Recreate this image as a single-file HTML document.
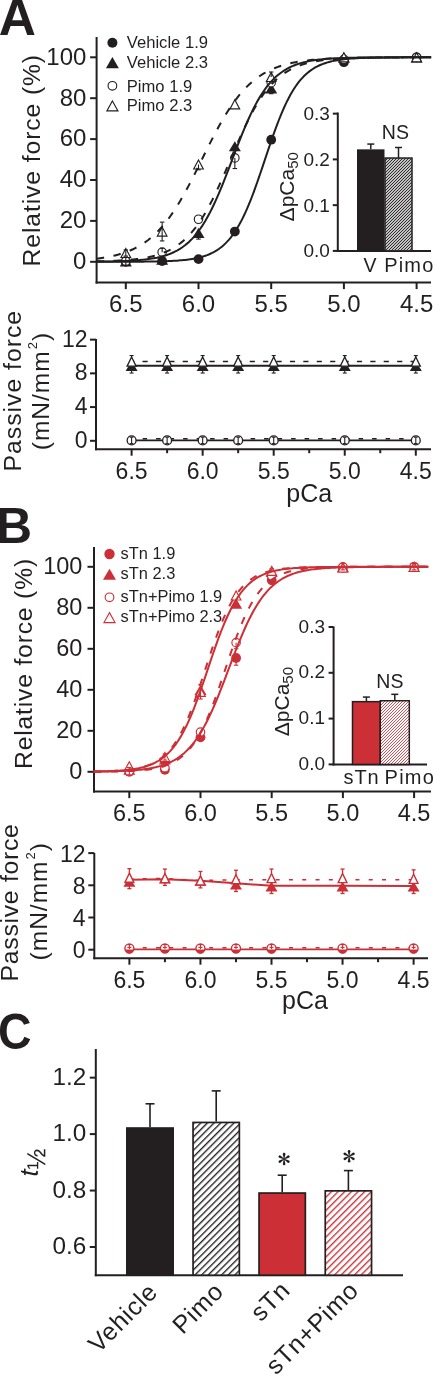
<!DOCTYPE html>
<html><head><meta charset="utf-8"><style>
html,body{margin:0;padding:0;background:#fff;}
svg{display:block;font-family:"Liberation Sans", sans-serif;will-change:transform;}
</style></head><body>
<svg width="433" height="1375" viewBox="0 0 433 1375">
<defs>
<pattern id="hatchK" patternUnits="userSpaceOnUse" width="4.7" height="4.7" patternTransform="rotate(45)">
<rect width="4.7" height="4.7" fill="#fff"/><rect x="0" y="0" width="1.35" height="4.7" fill="#231f20"/></pattern>
<pattern id="hatchR" patternUnits="userSpaceOnUse" width="4.7" height="4.7" patternTransform="rotate(45)">
<rect width="4.7" height="4.7" fill="#fff"/><rect x="0" y="0" width="1.35" height="4.7" fill="#cc2f36"/></pattern>
<pattern id="hatchKs" patternUnits="userSpaceOnUse" width="3" height="3">
<rect width="3" height="3" fill="#fff"/><path d="M-1,1 l2,-2 M0,3 l3,-3 M2,4 l2,-2" stroke="#231f20" stroke-width="1.05"/></pattern>
<pattern id="hatchRs" patternUnits="userSpaceOnUse" width="3" height="3">
<rect width="3" height="3" fill="#fff"/><path d="M-1,1 l2,-2 M0,3 l3,-3 M2,4 l2,-2" stroke="#cc2f36" stroke-width="0.85"/></pattern>
</defs>
<text x="-1.3" y="34.8" font-size="51.5" font-weight="bold" fill="#231f20">A</text>
<line x1="96.6" y1="37" x2="96.6" y2="283.6" stroke="#231f20" stroke-width="2" />
<line x1="95.6" y1="282.6" x2="431" y2="282.6" stroke="#231f20" stroke-width="2" />
<line x1="90.1" y1="261.8" x2="96.6" y2="261.8" stroke="#231f20" stroke-width="2" />
<text x="86.4" y="269.1" font-size="24" text-anchor="end" fill="#231f20" >0</text>
<line x1="90.1" y1="220.9" x2="96.6" y2="220.9" stroke="#231f20" stroke-width="2" />
<text x="86.4" y="228.2" font-size="24" text-anchor="end" fill="#231f20" >20</text>
<line x1="90.1" y1="180" x2="96.6" y2="180" stroke="#231f20" stroke-width="2" />
<text x="86.4" y="187.3" font-size="24" text-anchor="end" fill="#231f20" >40</text>
<line x1="90.1" y1="139.1" x2="96.6" y2="139.1" stroke="#231f20" stroke-width="2" />
<text x="86.4" y="146.4" font-size="24" text-anchor="end" fill="#231f20" >60</text>
<line x1="90.1" y1="98.2" x2="96.6" y2="98.2" stroke="#231f20" stroke-width="2" />
<text x="86.4" y="105.5" font-size="24" text-anchor="end" fill="#231f20" >80</text>
<line x1="90.1" y1="57.3" x2="96.6" y2="57.3" stroke="#231f20" stroke-width="2" />
<text x="86.4" y="64.6" font-size="24" text-anchor="end" fill="#231f20" >100</text>
<line x1="125.8" y1="282.6" x2="125.8" y2="289.1" stroke="#231f20" stroke-width="2" />
<text x="125.8" y="312" font-size="24" text-anchor="middle" fill="#231f20" >6.5</text>
<line x1="198.5" y1="282.6" x2="198.5" y2="289.1" stroke="#231f20" stroke-width="2" />
<text x="198.5" y="312" font-size="24" text-anchor="middle" fill="#231f20" >6.0</text>
<line x1="271.2" y1="282.6" x2="271.2" y2="289.1" stroke="#231f20" stroke-width="2" />
<text x="271.2" y="312" font-size="24" text-anchor="middle" fill="#231f20" >5.5</text>
<line x1="343.9" y1="282.6" x2="343.9" y2="289.1" stroke="#231f20" stroke-width="2" />
<text x="343.9" y="312" font-size="24" text-anchor="middle" fill="#231f20" >5.0</text>
<line x1="416.6" y1="282.6" x2="416.6" y2="289.1" stroke="#231f20" stroke-width="2" />
<text x="416.6" y="312" font-size="24" text-anchor="middle" fill="#231f20" >4.5</text>
<text transform="translate(40.1,266.4) rotate(-90)" font-size="24.7" text-anchor="start" fill="#231f20" letter-spacing="0.9">Relative force (%)</text>
<polygon points="125.8,256.29 131.8,266.49 119.8,266.49" fill="#231f20"/>
<polygon points="162.15,254.66 168.15,264.86 156.15,264.86" fill="#231f20"/>
<polygon points="198.5,227.87 204.5,238.07 192.5,238.07" fill="#231f20"/>
<polygon points="234.85,141.16 240.85,151.36 228.85,151.36" fill="#231f20"/>
<polygon points="271.2,83.28 277.2,93.48 265.2,93.48" fill="#231f20"/>
<polygon points="343.9,52.2 349.9,62.4 337.9,62.4" fill="#231f20"/>
<polygon points="416.6,52.2 422.6,62.4 410.6,62.4" fill="#231f20"/>
<circle cx="125.8" cy="261.8" r="4.9" fill="#231f20"/>
<circle cx="162.15" cy="260.98" r="4.9" fill="#231f20"/>
<circle cx="198.5" cy="259.14" r="4.9" fill="#231f20"/>
<circle cx="234.85" cy="231.53" r="4.9" fill="#231f20"/>
<circle cx="271.2" cy="139.71" r="4.9" fill="#231f20"/>
<circle cx="343.9" cy="62.21" r="4.9" fill="#231f20"/>
<circle cx="416.6" cy="57.3" r="4.9" fill="#231f20"/>
<circle cx="125.8" cy="261.19" r="4.22" fill="#fff" stroke="#231f20" stroke-width="1.15"/>
<circle cx="162.15" cy="252.19" r="4.22" fill="#fff" stroke="#231f20" stroke-width="1.15"/>
<circle cx="198.5" cy="219.26" r="4.22" fill="#fff" stroke="#231f20" stroke-width="1.15"/>
<circle cx="234.85" cy="157.91" r="4.22" fill="#fff" stroke="#231f20" stroke-width="1.15"/>
<circle cx="271.2" cy="82.66" r="4.22" fill="#fff" stroke="#231f20" stroke-width="1.15"/>
<circle cx="343.9" cy="59.35" r="4.22" fill="#fff" stroke="#231f20" stroke-width="1.15"/>
<circle cx="416.6" cy="57.3" r="4.22" fill="#fff" stroke="#231f20" stroke-width="1.15"/>
<polygon points="125.8,248.48 130.62,257.53 120.98,257.53" fill="#fff" stroke="#231f20" stroke-width="1.15" stroke-linejoin="miter"/>
<polygon points="162.15,227.01 166.97,236.06 157.33,236.06" fill="#fff" stroke="#231f20" stroke-width="1.15" stroke-linejoin="miter"/>
<polygon points="198.5,159.93 203.32,168.98 193.68,168.98" fill="#fff" stroke="#231f20" stroke-width="1.15" stroke-linejoin="miter"/>
<polygon points="234.85,99.81 239.67,108.86 230.03,108.86" fill="#fff" stroke="#231f20" stroke-width="1.15" stroke-linejoin="miter"/>
<polygon points="271.2,72.41 276.02,81.46 266.38,81.46" fill="#fff" stroke="#231f20" stroke-width="1.15" stroke-linejoin="miter"/>
<polygon points="343.9,52.78 348.72,61.83 339.08,61.83" fill="#fff" stroke="#231f20" stroke-width="1.15" stroke-linejoin="miter"/>
<polygon points="416.6,52.78 421.42,61.83 411.78,61.83" fill="#fff" stroke="#231f20" stroke-width="1.15" stroke-linejoin="miter"/>
<line x1="162.15" y1="231.53" x2="162.15" y2="222.13" stroke="#231f20" stroke-width="1.1" />
<line x1="159.9" y1="222.13" x2="164.4" y2="222.13" stroke="#231f20" stroke-width="1.1" />
<line x1="162.15" y1="231.53" x2="162.15" y2="240.94" stroke="#231f20" stroke-width="1.1" />
<line x1="159.9" y1="240.94" x2="164.4" y2="240.94" stroke="#231f20" stroke-width="1.1" />
<line x1="162.15" y1="252.19" x2="162.15" y2="248.1" stroke="#231f20" stroke-width="1.1" />
<line x1="159.9" y1="248.1" x2="164.4" y2="248.1" stroke="#231f20" stroke-width="1.1" />
<line x1="198.5" y1="232.97" x2="198.5" y2="239.1" stroke="#231f20" stroke-width="1.1" />
<line x1="196.25" y1="239.1" x2="200.75" y2="239.1" stroke="#231f20" stroke-width="1.1" />
<line x1="234.85" y1="157.91" x2="234.85" y2="168.55" stroke="#231f20" stroke-width="1.1" />
<line x1="232.6" y1="168.55" x2="237.1" y2="168.55" stroke="#231f20" stroke-width="1.1" />
<line x1="198.5" y1="164.46" x2="198.5" y2="169.78" stroke="#231f20" stroke-width="1.1" />
<line x1="196.25" y1="169.78" x2="200.75" y2="169.78" stroke="#231f20" stroke-width="1.1" />
<line x1="271.2" y1="88.38" x2="271.2" y2="93.7" stroke="#231f20" stroke-width="1.1" />
<line x1="268.95" y1="93.7" x2="273.45" y2="93.7" stroke="#231f20" stroke-width="1.1" />
<line x1="271.2" y1="76.93" x2="271.2" y2="72.02" stroke="#231f20" stroke-width="1.1" />
<line x1="268.95" y1="72.02" x2="273.45" y2="72.02" stroke="#231f20" stroke-width="1.1" />
<line x1="125.8" y1="261.19" x2="125.8" y2="257.1" stroke="#231f20" stroke-width="1.1" />
<line x1="123.55" y1="257.1" x2="128.05" y2="257.1" stroke="#231f20" stroke-width="1.1" />
<line x1="125.8" y1="261.19" x2="125.8" y2="265.28" stroke="#231f20" stroke-width="1.1" />
<line x1="123.55" y1="265.28" x2="128.05" y2="265.28" stroke="#231f20" stroke-width="1.1" />
<line x1="125.8" y1="253.01" x2="125.8" y2="249.94" stroke="#231f20" stroke-width="1.1" />
<line x1="123.55" y1="249.94" x2="128.05" y2="249.94" stroke="#231f20" stroke-width="1.1" />
<line x1="125.8" y1="253.01" x2="125.8" y2="256.07" stroke="#231f20" stroke-width="1.1" />
<line x1="123.55" y1="256.07" x2="128.05" y2="256.07" stroke="#231f20" stroke-width="1.1" />
<line x1="234.85" y1="231.53" x2="234.85" y2="233.99" stroke="#231f20" stroke-width="1.1" />
<line x1="232.6" y1="233.99" x2="237.1" y2="233.99" stroke="#231f20" stroke-width="1.1" />
<path d="M96.72,261.79 L98.39,261.79 L100.06,261.79 L101.74,261.79 L103.41,261.78 L105.08,261.78 L106.75,261.78 L108.42,261.78 L110.1,261.78 L111.77,261.77 L113.44,261.77 L115.11,261.77 L116.79,261.77 L118.46,261.76 L120.13,261.76 L121.8,261.75 L123.47,261.75 L125.15,261.74 L126.82,261.74 L128.49,261.73 L130.16,261.72 L131.83,261.72 L133.51,261.71 L135.18,261.7 L136.85,261.69 L138.52,261.68 L140.19,261.66 L141.87,261.65 L143.54,261.63 L145.21,261.62 L146.88,261.6 L148.56,261.58 L150.23,261.55 L151.9,261.53 L153.57,261.5 L155.24,261.47 L156.92,261.44 L158.59,261.4 L160.26,261.36 L161.93,261.31 L163.6,261.26 L165.28,261.21 L166.95,261.15 L168.62,261.08 L170.29,261.01 L171.96,260.92 L173.64,260.83 L175.31,260.73 L176.98,260.63 L178.65,260.51 L180.32,260.37 L182,260.23 L183.67,260.07 L185.34,259.89 L187.01,259.7 L188.69,259.48 L190.36,259.25 L192.03,258.99 L193.7,258.7 L195.37,258.39 L197.05,258.04 L198.72,257.67 L200.39,257.25 L202.06,256.79 L203.73,256.29 L205.41,255.74 L207.08,255.14 L208.75,254.48 L210.42,253.75 L212.09,252.96 L213.77,252.09 L215.44,251.14 L217.11,250.11 L218.78,248.98 L220.46,247.75 L222.13,246.42 L223.8,244.96 L225.47,243.39 L227.14,241.68 L228.82,239.83 L230.49,237.83 L232.16,235.68 L233.83,233.36 L235.5,230.88 L237.18,228.22 L238.85,225.38 L240.52,222.35 L242.19,219.14 L243.86,215.74 L245.54,212.15 L247.21,208.37 L248.88,204.41 L250.55,200.28 L252.23,195.99 L253.9,191.54 L255.57,186.96 L257.24,182.25 L258.91,177.44 L260.59,172.55 L262.26,167.59 L263.93,162.6 L265.6,157.59 L267.27,152.59 L268.95,147.63 L270.62,142.72 L272.29,137.89 L273.96,133.16 L275.63,128.54 L277.31,124.06 L278.98,119.74 L280.65,115.57 L282.32,111.57 L284,107.76 L285.67,104.13 L287.34,100.68 L289.01,97.43 L290.68,94.36 L292.36,91.48 L294.03,88.78 L295.7,86.26 L297.37,83.91 L299.04,81.72 L300.72,79.69 L302.39,77.81 L304.06,76.07 L305.73,74.47 L307.4,72.99 L309.08,71.63 L310.75,70.38 L312.42,69.23 L314.09,68.17 L315.77,67.21 L317.44,66.32 L319.11,65.52 L320.78,64.78 L322.45,64.1 L324.13,63.49 L325.8,62.93 L327.47,62.41 L329.14,61.95 L330.81,61.52 L332.49,61.14 L334.16,60.78 L335.83,60.46 L337.5,60.17 L339.17,59.91 L340.85,59.67 L342.52,59.45 L344.19,59.25 L345.86,59.07 L347.54,58.91 L349.21,58.76 L350.88,58.62 L352.55,58.5 L354.22,58.39 L355.9,58.29 L357.57,58.2 L359.24,58.11 L360.91,58.04 L362.58,57.97 L364.26,57.91 L365.93,57.85 L367.6,57.8 L369.27,57.75 L370.94,57.71 L372.62,57.67 L374.29,57.64 L375.96,57.61 L377.63,57.58 L379.3,57.55 L380.98,57.53 L382.65,57.51 L384.32,57.49 L385.99,57.47 L387.67,57.45 L389.34,57.44 L391.01,57.43 L392.68,57.41 L394.35,57.4 L396.03,57.39 L397.7,57.39 L399.37,57.38 L401.04,57.37 L402.71,57.36 L404.39,57.36 L406.06,57.35 L407.73,57.35 L409.4,57.34 L411.07,57.34 L412.75,57.34 L414.42,57.33 L416.09,57.33 L417.76,57.33 L419.44,57.32 L421.11,57.32 L422.78,57.32 L424.45,57.32 L426.12,57.32 L427.8,57.31 L429.47,57.31 L431.14,57.31" fill="none" stroke="#231f20" stroke-width="2"/>
<path d="M96.72,261.61 L98.39,261.59 L100.06,261.57 L101.74,261.55 L103.41,261.53 L105.08,261.51 L106.75,261.48 L108.42,261.45 L110.1,261.42 L111.77,261.39 L113.44,261.35 L115.11,261.31 L116.79,261.26 L118.46,261.22 L120.13,261.16 L121.8,261.11 L123.47,261.04 L125.15,260.98 L126.82,260.9 L128.49,260.82 L130.16,260.74 L131.83,260.64 L133.51,260.54 L135.18,260.42 L136.85,260.3 L138.52,260.17 L140.19,260.02 L141.87,259.86 L143.54,259.69 L145.21,259.51 L146.88,259.3 L148.56,259.08 L150.23,258.84 L151.9,258.58 L153.57,258.29 L155.24,257.98 L156.92,257.65 L158.59,257.28 L160.26,256.89 L161.93,256.46 L163.6,255.99 L165.28,255.48 L166.95,254.94 L168.62,254.34 L170.29,253.7 L171.96,253 L173.64,252.25 L175.31,251.43 L176.98,250.55 L178.65,249.6 L180.32,248.57 L182,247.47 L183.67,246.28 L185.34,245 L187.01,243.62 L188.69,242.15 L190.36,240.56 L192.03,238.87 L193.7,237.06 L195.37,235.12 L197.05,233.06 L198.72,230.87 L200.39,228.54 L202.06,226.08 L203.73,223.47 L205.41,220.72 L207.08,217.82 L208.75,214.77 L210.42,211.59 L212.09,208.25 L213.77,204.78 L215.44,201.18 L217.11,197.45 L218.78,193.59 L220.46,189.62 L222.13,185.56 L223.8,181.4 L225.47,177.16 L227.14,172.86 L228.82,168.52 L230.49,164.14 L232.16,159.74 L233.83,155.34 L235.5,150.96 L237.18,146.61 L238.85,142.31 L240.52,138.07 L242.19,133.9 L243.86,129.83 L245.54,125.85 L247.21,121.99 L248.88,118.24 L250.55,114.62 L252.23,111.14 L253.9,107.8 L255.57,104.6 L257.24,101.54 L258.91,98.63 L260.59,95.86 L262.26,93.24 L263.93,90.76 L265.6,88.43 L267.27,86.22 L268.95,84.15 L270.62,82.21 L272.29,80.38 L273.96,78.68 L275.63,77.09 L277.31,75.6 L278.98,74.22 L280.65,72.93 L282.32,71.73 L284,70.62 L285.67,69.59 L287.34,68.63 L289.01,67.74 L290.68,66.92 L292.36,66.16 L294.03,65.46 L295.7,64.81 L297.37,64.21 L299.04,63.66 L300.72,63.15 L302.39,62.68 L304.06,62.25 L305.73,61.85 L307.4,61.48 L309.08,61.14 L310.75,60.83 L312.42,60.55 L314.09,60.28 L315.77,60.04 L317.44,59.82 L319.11,59.61 L320.78,59.42 L322.45,59.25 L324.13,59.09 L325.8,58.94 L327.47,58.81 L329.14,58.69 L330.81,58.57 L332.49,58.47 L334.16,58.37 L335.83,58.28 L337.5,58.2 L339.17,58.13 L340.85,58.06 L342.52,58 L344.19,57.94 L345.86,57.89 L347.54,57.84 L349.21,57.8 L350.88,57.75 L352.55,57.72 L354.22,57.68 L355.9,57.65 L357.57,57.62 L359.24,57.6 L360.91,57.57 L362.58,57.55 L364.26,57.53 L365.93,57.51 L367.6,57.49 L369.27,57.48 L370.94,57.46 L372.62,57.45 L374.29,57.44 L375.96,57.43 L377.63,57.41 L379.3,57.41 L380.98,57.4 L382.65,57.39 L384.32,57.38 L385.99,57.37 L387.67,57.37 L389.34,57.36 L391.01,57.36 L392.68,57.35 L394.35,57.35 L396.03,57.34 L397.7,57.34 L399.37,57.34 L401.04,57.33 L402.71,57.33 L404.39,57.33 L406.06,57.33 L407.73,57.32 L409.4,57.32 L411.07,57.32 L412.75,57.32 L414.42,57.32 L416.09,57.32 L417.76,57.31 L419.44,57.31 L421.11,57.31 L422.78,57.31 L424.45,57.31 L426.12,57.31 L427.8,57.31 L429.47,57.31 L431.14,57.31" fill="none" stroke="#231f20" stroke-width="2"/>
<path d="M96.72,261.36 L98.39,261.33 L100.06,261.29 L101.74,261.25 L103.41,261.2 L105.08,261.16 L106.75,261.11 L108.42,261.05 L110.1,260.99 L111.77,260.93 L113.44,260.86 L115.11,260.78 L116.79,260.7 L118.46,260.61 L120.13,260.52 L121.8,260.42 L123.47,260.31 L125.15,260.19 L126.82,260.07 L128.49,259.93 L130.16,259.78 L131.83,259.62 L133.51,259.45 L135.18,259.26 L136.85,259.06 L138.52,258.85 L140.19,258.62 L141.87,258.37 L143.54,258.1 L145.21,257.81 L146.88,257.5 L148.56,257.16 L150.23,256.8 L151.9,256.41 L153.57,255.99 L155.24,255.54 L156.92,255.06 L158.59,254.54 L160.26,253.98 L161.93,253.38 L163.6,252.74 L165.28,252.05 L166.95,251.32 L168.62,250.53 L170.29,249.68 L171.96,248.77 L173.64,247.8 L175.31,246.77 L176.98,245.66 L178.65,244.49 L180.32,243.23 L182,241.89 L183.67,240.47 L185.34,238.95 L187.01,237.35 L188.69,235.65 L190.36,233.85 L192.03,231.94 L193.7,229.93 L195.37,227.81 L197.05,225.57 L198.72,223.23 L200.39,220.77 L202.06,218.19 L203.73,215.5 L205.41,212.69 L207.08,209.77 L208.75,206.73 L210.42,203.59 L212.09,200.34 L213.77,196.99 L215.44,193.54 L217.11,190.01 L218.78,186.39 L220.46,182.7 L222.13,178.94 L223.8,175.13 L225.47,171.28 L227.14,167.39 L228.82,163.47 L230.49,159.55 L232.16,155.63 L233.83,151.71 L235.5,147.82 L237.18,143.97 L238.85,140.16 L240.52,136.4 L242.19,132.71 L243.86,129.09 L245.54,125.56 L247.21,122.11 L248.88,118.76 L250.55,115.51 L252.23,112.37 L253.9,109.33 L255.57,106.41 L257.24,103.6 L258.91,100.91 L260.59,98.33 L262.26,95.87 L263.93,93.53 L265.6,91.29 L267.27,89.17 L268.95,87.16 L270.62,85.25 L272.29,83.45 L273.96,81.75 L275.63,80.15 L277.31,78.63 L278.98,77.21 L280.65,75.87 L282.32,74.61 L284,73.44 L285.67,72.33 L287.34,71.3 L289.01,70.33 L290.68,69.42 L292.36,68.57 L294.03,67.78 L295.7,67.05 L297.37,66.36 L299.04,65.72 L300.72,65.12 L302.39,64.56 L304.06,64.04 L305.73,63.56 L307.4,63.11 L309.08,62.69 L310.75,62.3 L312.42,61.94 L314.09,61.6 L315.77,61.29 L317.44,61 L319.11,60.73 L320.78,60.48 L322.45,60.25 L324.13,60.04 L325.8,59.84 L327.47,59.65 L329.14,59.48 L330.81,59.32 L332.49,59.17 L334.16,59.03 L335.83,58.91 L337.5,58.79 L339.17,58.68 L340.85,58.58 L342.52,58.49 L344.19,58.4 L345.86,58.32 L347.54,58.24 L349.21,58.17 L350.88,58.11 L352.55,58.05 L354.22,57.99 L355.9,57.94 L357.57,57.9 L359.24,57.85 L360.91,57.81 L362.58,57.77 L364.26,57.74 L365.93,57.71 L367.6,57.68 L369.27,57.65 L370.94,57.62 L372.62,57.6 L374.29,57.58 L375.96,57.56 L377.63,57.54 L379.3,57.52 L380.98,57.5 L382.65,57.49 L384.32,57.47 L385.99,57.46 L387.67,57.45 L389.34,57.44 L391.01,57.43 L392.68,57.42 L394.35,57.41 L396.03,57.4 L397.7,57.39 L399.37,57.39 L401.04,57.38 L402.71,57.38 L404.39,57.37 L406.06,57.36 L407.73,57.36 L409.4,57.36 L411.07,57.35 L412.75,57.35 L414.42,57.34 L416.09,57.34 L417.76,57.34 L419.44,57.33 L421.11,57.33 L422.78,57.33 L424.45,57.33 L426.12,57.33 L427.8,57.32 L429.47,57.32 L431.14,57.32" fill="none" stroke="#231f20" stroke-width="2" stroke-dasharray="7.5,9.5"/>
<path d="M96.72,258.66 L98.39,258.45 L100.06,258.23 L101.74,257.99 L103.41,257.73 L105.08,257.46 L106.75,257.17 L108.42,256.86 L110.1,256.53 L111.77,256.18 L113.44,255.81 L115.11,255.41 L116.79,254.98 L118.46,254.54 L120.13,254.06 L121.8,253.55 L123.47,253.01 L125.15,252.43 L126.82,251.82 L128.49,251.18 L130.16,250.49 L131.83,249.76 L133.51,248.99 L135.18,248.17 L136.85,247.3 L138.52,246.39 L140.19,245.42 L141.87,244.39 L143.54,243.31 L145.21,242.16 L146.88,240.95 L148.56,239.68 L150.23,238.34 L151.9,236.93 L153.57,235.45 L155.24,233.89 L156.92,232.26 L158.59,230.55 L160.26,228.75 L161.93,226.88 L163.6,224.92 L165.28,222.87 L166.95,220.74 L168.62,218.53 L170.29,216.23 L171.96,213.84 L173.64,211.37 L175.31,208.81 L176.98,206.17 L178.65,203.45 L180.32,200.65 L182,197.78 L183.67,194.83 L185.34,191.81 L187.01,188.73 L188.69,185.6 L190.36,182.41 L192.03,179.17 L193.7,175.89 L195.37,172.58 L197.05,169.23 L198.72,165.87 L200.39,162.49 L202.06,159.11 L203.73,155.73 L205.41,152.35 L207.08,148.99 L208.75,145.66 L210.42,142.35 L212.09,139.08 L213.77,135.86 L215.44,132.68 L217.11,129.56 L218.78,126.49 L220.46,123.5 L222.13,120.57 L223.8,117.71 L225.47,114.93 L227.14,112.23 L228.82,109.61 L230.49,107.08 L232.16,104.63 L233.83,102.26 L235.5,99.98 L237.18,97.79 L238.85,95.68 L240.52,93.66 L242.19,91.73 L243.86,89.87 L245.54,88.1 L247.21,86.41 L248.88,84.79 L250.55,83.26 L252.23,81.79 L253.9,80.4 L255.57,79.08 L257.24,77.82 L258.91,76.63 L260.59,75.51 L262.26,74.44 L263.93,73.43 L265.6,72.47 L267.27,71.57 L268.95,70.71 L270.62,69.91 L272.29,69.14 L273.96,68.43 L275.63,67.75 L277.31,67.11 L278.98,66.51 L280.65,65.95 L282.32,65.42 L284,64.92 L285.67,64.44 L287.34,64 L289.01,63.59 L290.68,63.2 L292.36,62.83 L294.03,62.48 L295.7,62.16 L297.37,61.85 L299.04,61.57 L300.72,61.3 L302.39,61.05 L304.06,60.81 L305.73,60.59 L307.4,60.38 L309.08,60.19 L310.75,60.01 L312.42,59.84 L314.09,59.67 L315.77,59.52 L317.44,59.38 L319.11,59.25 L320.78,59.13 L322.45,59.01 L324.13,58.9 L325.8,58.8 L327.47,58.71 L329.14,58.62 L330.81,58.53 L332.49,58.45 L334.16,58.38 L335.83,58.31 L337.5,58.25 L339.17,58.19 L340.85,58.13 L342.52,58.08 L344.19,58.03 L345.86,57.98 L347.54,57.94 L349.21,57.9 L350.88,57.86 L352.55,57.82 L354.22,57.79 L355.9,57.76 L357.57,57.73 L359.24,57.7 L360.91,57.68 L362.58,57.65 L364.26,57.63 L365.93,57.61 L367.6,57.59 L369.27,57.57 L370.94,57.55 L372.62,57.54 L374.29,57.52 L375.96,57.51 L377.63,57.49 L379.3,57.48 L380.98,57.47 L382.65,57.46 L384.32,57.45 L385.99,57.44 L387.67,57.43 L389.34,57.42 L391.01,57.41 L392.68,57.41 L394.35,57.4 L396.03,57.39 L397.7,57.39 L399.37,57.38 L401.04,57.38 L402.71,57.37 L404.39,57.37 L406.06,57.36 L407.73,57.36 L409.4,57.36 L411.07,57.35 L412.75,57.35 L414.42,57.35 L416.09,57.34 L417.76,57.34 L419.44,57.34 L421.11,57.33 L422.78,57.33 L424.45,57.33 L426.12,57.33 L427.8,57.33 L429.47,57.32 L431.14,57.32" fill="none" stroke="#231f20" stroke-width="2" stroke-dasharray="7.5,9.5"/>
<circle cx="112.4" cy="42.7" r="5" fill="#231f20"/>
<polygon points="112.4,57.06 118.88,68.14 105.92,68.14" fill="#231f20"/>
<circle cx="112.4" cy="85.8" r="4.35" fill="none" stroke="#231f20" stroke-width="1.1"/>
<polygon points="112.4,100.92 117.95,110.89 106.86,110.89" fill="none" stroke="#231f20" stroke-width="1.1" stroke-linejoin="miter"/>
<text x="126.8" y="48" font-size="16.6" text-anchor="start" fill="#231f20" >Vehicle 1.9</text>
<text x="126.8" y="67.6" font-size="16.6" text-anchor="start" fill="#231f20" >Vehicle 2.3</text>
<text x="126.8" y="91.5" font-size="16.6" text-anchor="start" fill="#231f20" >Pimo 1.9</text>
<text x="126.8" y="111" font-size="16.6" text-anchor="start" fill="#231f20" >Pimo 2.3</text>
<line x1="337.8" y1="112.5" x2="337.8" y2="251.9" stroke="#231f20" stroke-width="2" />
<line x1="336.8" y1="250.9" x2="431" y2="250.9" stroke="#231f20" stroke-width="2" />
<line x1="332.8" y1="250.9" x2="337.8" y2="250.9" stroke="#231f20" stroke-width="2" />
<text x="329.8" y="257.4" font-size="19" text-anchor="end" fill="#231f20" >0.0</text>
<line x1="332.8" y1="205.15" x2="337.8" y2="205.15" stroke="#231f20" stroke-width="2" />
<text x="329.8" y="211.65" font-size="19" text-anchor="end" fill="#231f20" >0.1</text>
<line x1="332.8" y1="159.4" x2="337.8" y2="159.4" stroke="#231f20" stroke-width="2" />
<text x="329.8" y="165.9" font-size="19" text-anchor="end" fill="#231f20" >0.2</text>
<line x1="332.8" y1="113.65" x2="337.8" y2="113.65" stroke="#231f20" stroke-width="2" />
<text x="329.8" y="120.15" font-size="19" text-anchor="end" fill="#231f20" >0.3</text>
<rect x="357" y="149.34" width="27.5" height="101.56" fill="#231f20"/>
<rect x="385" y="158.03" width="27" height="92.87" fill="url(#hatchKs)" stroke="#231f20" stroke-width="1.5"/>
<line x1="370.8" y1="149.34" x2="370.8" y2="144.07" stroke="#231f20" stroke-width="1.5" />
<line x1="367.3" y1="144.07" x2="374.3" y2="144.07" stroke="#231f20" stroke-width="1.5" />
<line x1="398.5" y1="158.03" x2="398.5" y2="147.5" stroke="#231f20" stroke-width="1.5" />
<line x1="395" y1="147.5" x2="402" y2="147.5" stroke="#231f20" stroke-width="1.5" />
<text x="395.4" y="139.2" font-size="19.5" text-anchor="middle" fill="#231f20" >NS</text>
<text x="370.1" y="272.2" font-size="19.5" text-anchor="middle" fill="#231f20" >V</text>
<text x="384.2" y="272.4" font-size="20" text-anchor="start" fill="#231f20" letter-spacing="1.2">Pimo</text>
<text transform="translate(294.2,221.4) rotate(-90)" font-size="21" text-anchor="start" fill="#231f20" >&#916;pCa<tspan font-size="15" dy="4">50</tspan></text>
<line x1="96" y1="339" x2="96" y2="450.2" stroke="#231f20" stroke-width="2" />
<line x1="95" y1="449.2" x2="431" y2="449.2" stroke="#231f20" stroke-width="2" />
<line x1="90" y1="440.8" x2="96" y2="440.8" stroke="#231f20" stroke-width="2" />
<text x="87.5" y="447.7" font-size="23" text-anchor="end" fill="#231f20" >0</text>
<line x1="90" y1="407.08" x2="96" y2="407.08" stroke="#231f20" stroke-width="2" />
<text x="87.5" y="413.98" font-size="23" text-anchor="end" fill="#231f20" >4</text>
<line x1="90" y1="373.36" x2="96" y2="373.36" stroke="#231f20" stroke-width="2" />
<text x="87.5" y="380.26" font-size="23" text-anchor="end" fill="#231f20" >8</text>
<line x1="90" y1="339.64" x2="96" y2="339.64" stroke="#231f20" stroke-width="2" />
<text x="87.5" y="346.54" font-size="23" text-anchor="end" fill="#231f20" >12</text>
<line x1="131.6" y1="449.2" x2="131.6" y2="455.7" stroke="#231f20" stroke-width="2" />
<line x1="167.12" y1="449.2" x2="167.12" y2="453.2" stroke="#231f20" stroke-width="2" />
<line x1="202.65" y1="449.2" x2="202.65" y2="455.7" stroke="#231f20" stroke-width="2" />
<line x1="238.17" y1="449.2" x2="238.17" y2="453.2" stroke="#231f20" stroke-width="2" />
<line x1="273.7" y1="449.2" x2="273.7" y2="455.7" stroke="#231f20" stroke-width="2" />
<line x1="309.23" y1="449.2" x2="309.23" y2="453.2" stroke="#231f20" stroke-width="2" />
<line x1="344.75" y1="449.2" x2="344.75" y2="455.7" stroke="#231f20" stroke-width="2" />
<line x1="380.27" y1="449.2" x2="380.27" y2="453.2" stroke="#231f20" stroke-width="2" />
<line x1="415.8" y1="449.2" x2="415.8" y2="455.7" stroke="#231f20" stroke-width="2" />
<text x="131.6" y="479.2" font-size="23" text-anchor="middle" fill="#231f20" >6.5</text>
<text x="202.65" y="479.2" font-size="23" text-anchor="middle" fill="#231f20" >6.0</text>
<text x="273.7" y="479.2" font-size="23" text-anchor="middle" fill="#231f20" >5.5</text>
<text x="344.75" y="479.2" font-size="23" text-anchor="middle" fill="#231f20" >5.0</text>
<text x="415.8" y="479.2" font-size="23" text-anchor="middle" fill="#231f20" >4.5</text>
<text x="309.3" y="501.6" font-size="25" text-anchor="middle" fill="#231f20" >pCa</text>
<text transform="translate(20.6,471.4) rotate(-90)" font-size="24.8" text-anchor="start" fill="#231f20" letter-spacing="0.97">Passive force</text>
<text transform="translate(49.2,450.2) rotate(-90)" font-size="24.5" text-anchor="start" fill="#231f20" letter-spacing="1">(mN/mm<tspan font-size="13" dy="-12" dx="1">2</tspan><tspan dy="12">)</tspan></text>
<path d="M131.6,361.56 L167.12,361.56 L202.65,361.56 L238.17,361.56 L273.7,361.56 L344.75,361.56 L415.8,361.56" fill="none" stroke="#231f20" stroke-width="1.4" stroke-dasharray="5.2,8.2" stroke-dashoffset="2.5"/>
<path d="M131.6,365.77 L167.12,365.77 L202.65,365.77 L238.17,365.77 L273.7,365.77 L344.75,365.77 L415.8,365.77" fill="none" stroke="#231f20" stroke-width="1.8"/>
<path d="M131.6,438.69 L167.12,438.69 L202.65,438.69 L238.17,438.69 L273.7,438.69 L344.75,438.69 L415.8,438.69" fill="none" stroke="#231f20" stroke-width="1.5" stroke-dasharray="4.5,9" stroke-dashoffset="2.5"/>
<path d="M131.6,440.29 L167.12,440.29 L202.65,440.29 L238.17,440.29 L273.7,440.29 L344.75,440.29 L415.8,440.29" fill="none" stroke="#231f20" stroke-width="1.8"/>
<line x1="131.6" y1="366.03" x2="131.6" y2="373.03" stroke="#231f20" stroke-width="1.1" />
<line x1="129.6" y1="373.03" x2="133.6" y2="373.03" stroke="#231f20" stroke-width="1.1" />
<polygon points="131.6,361.03 137.6,371.03 125.6,371.03" fill="#231f20"/>
<line x1="131.6" y1="361.56" x2="131.6" y2="355.56" stroke="#231f20" stroke-width="1.1" />
<line x1="129.6" y1="355.56" x2="133.6" y2="355.56" stroke="#231f20" stroke-width="1.1" />
<polygon points="131.6,356.96 136.09,366.16 127.1,366.16" fill="#fff" stroke="#231f20" stroke-width="1.3" stroke-linejoin="miter"/>
<circle cx="131.6" cy="440.4" r="4.45" fill="#fff" stroke="#231f20" stroke-width="1.3"/>
<line x1="131.6" y1="437.2" x2="131.6" y2="443.6" stroke="#231f20" stroke-width="1.1" />
<line x1="129.8" y1="437.2" x2="133.4" y2="437.2" stroke="#231f20" stroke-width="1.1" />
<line x1="129.8" y1="443.6" x2="133.4" y2="443.6" stroke="#231f20" stroke-width="1.1" />
<line x1="167.12" y1="366.03" x2="167.12" y2="373.03" stroke="#231f20" stroke-width="1.1" />
<line x1="165.12" y1="373.03" x2="169.12" y2="373.03" stroke="#231f20" stroke-width="1.1" />
<polygon points="167.12,361.03 173.12,371.03 161.12,371.03" fill="#231f20"/>
<line x1="167.12" y1="361.56" x2="167.12" y2="355.56" stroke="#231f20" stroke-width="1.1" />
<line x1="165.12" y1="355.56" x2="169.12" y2="355.56" stroke="#231f20" stroke-width="1.1" />
<polygon points="167.12,356.96 171.62,366.16 162.63,366.16" fill="#fff" stroke="#231f20" stroke-width="1.3" stroke-linejoin="miter"/>
<circle cx="167.12" cy="440.4" r="4.45" fill="#fff" stroke="#231f20" stroke-width="1.3"/>
<line x1="167.12" y1="437.2" x2="167.12" y2="443.6" stroke="#231f20" stroke-width="1.1" />
<line x1="165.32" y1="437.2" x2="168.93" y2="437.2" stroke="#231f20" stroke-width="1.1" />
<line x1="165.32" y1="443.6" x2="168.93" y2="443.6" stroke="#231f20" stroke-width="1.1" />
<line x1="202.65" y1="366.03" x2="202.65" y2="373.03" stroke="#231f20" stroke-width="1.1" />
<line x1="200.65" y1="373.03" x2="204.65" y2="373.03" stroke="#231f20" stroke-width="1.1" />
<polygon points="202.65,361.03 208.65,371.03 196.65,371.03" fill="#231f20"/>
<line x1="202.65" y1="361.56" x2="202.65" y2="355.56" stroke="#231f20" stroke-width="1.1" />
<line x1="200.65" y1="355.56" x2="204.65" y2="355.56" stroke="#231f20" stroke-width="1.1" />
<polygon points="202.65,356.96 207.14,366.16 198.15,366.16" fill="#fff" stroke="#231f20" stroke-width="1.3" stroke-linejoin="miter"/>
<circle cx="202.65" cy="440.4" r="4.45" fill="#fff" stroke="#231f20" stroke-width="1.3"/>
<line x1="202.65" y1="437.2" x2="202.65" y2="443.6" stroke="#231f20" stroke-width="1.1" />
<line x1="200.85" y1="437.2" x2="204.45" y2="437.2" stroke="#231f20" stroke-width="1.1" />
<line x1="200.85" y1="443.6" x2="204.45" y2="443.6" stroke="#231f20" stroke-width="1.1" />
<line x1="238.17" y1="366.03" x2="238.17" y2="373.03" stroke="#231f20" stroke-width="1.1" />
<line x1="236.17" y1="373.03" x2="240.17" y2="373.03" stroke="#231f20" stroke-width="1.1" />
<polygon points="238.17,361.03 244.17,371.03 232.17,371.03" fill="#231f20"/>
<line x1="238.17" y1="361.56" x2="238.17" y2="355.56" stroke="#231f20" stroke-width="1.1" />
<line x1="236.17" y1="355.56" x2="240.17" y2="355.56" stroke="#231f20" stroke-width="1.1" />
<polygon points="238.17,356.96 242.67,366.16 233.68,366.16" fill="#fff" stroke="#231f20" stroke-width="1.3" stroke-linejoin="miter"/>
<circle cx="238.17" cy="440.4" r="4.45" fill="#fff" stroke="#231f20" stroke-width="1.3"/>
<line x1="238.17" y1="437.2" x2="238.17" y2="443.6" stroke="#231f20" stroke-width="1.1" />
<line x1="236.37" y1="437.2" x2="239.97" y2="437.2" stroke="#231f20" stroke-width="1.1" />
<line x1="236.37" y1="443.6" x2="239.97" y2="443.6" stroke="#231f20" stroke-width="1.1" />
<line x1="273.7" y1="366.03" x2="273.7" y2="373.03" stroke="#231f20" stroke-width="1.1" />
<line x1="271.7" y1="373.03" x2="275.7" y2="373.03" stroke="#231f20" stroke-width="1.1" />
<polygon points="273.7,361.03 279.7,371.03 267.7,371.03" fill="#231f20"/>
<line x1="273.7" y1="361.56" x2="273.7" y2="355.56" stroke="#231f20" stroke-width="1.1" />
<line x1="271.7" y1="355.56" x2="275.7" y2="355.56" stroke="#231f20" stroke-width="1.1" />
<polygon points="273.7,356.96 278.19,366.16 269.2,366.16" fill="#fff" stroke="#231f20" stroke-width="1.3" stroke-linejoin="miter"/>
<circle cx="273.7" cy="440.4" r="4.45" fill="#fff" stroke="#231f20" stroke-width="1.3"/>
<line x1="273.7" y1="437.2" x2="273.7" y2="443.6" stroke="#231f20" stroke-width="1.1" />
<line x1="271.9" y1="437.2" x2="275.5" y2="437.2" stroke="#231f20" stroke-width="1.1" />
<line x1="271.9" y1="443.6" x2="275.5" y2="443.6" stroke="#231f20" stroke-width="1.1" />
<line x1="344.75" y1="366.03" x2="344.75" y2="373.03" stroke="#231f20" stroke-width="1.1" />
<line x1="342.75" y1="373.03" x2="346.75" y2="373.03" stroke="#231f20" stroke-width="1.1" />
<polygon points="344.75,361.03 350.75,371.03 338.75,371.03" fill="#231f20"/>
<line x1="344.75" y1="361.56" x2="344.75" y2="355.56" stroke="#231f20" stroke-width="1.1" />
<line x1="342.75" y1="355.56" x2="346.75" y2="355.56" stroke="#231f20" stroke-width="1.1" />
<polygon points="344.75,356.96 349.25,366.16 340.25,366.16" fill="#fff" stroke="#231f20" stroke-width="1.3" stroke-linejoin="miter"/>
<circle cx="344.75" cy="440.4" r="4.45" fill="#fff" stroke="#231f20" stroke-width="1.3"/>
<line x1="344.75" y1="437.2" x2="344.75" y2="443.6" stroke="#231f20" stroke-width="1.1" />
<line x1="342.95" y1="437.2" x2="346.55" y2="437.2" stroke="#231f20" stroke-width="1.1" />
<line x1="342.95" y1="443.6" x2="346.55" y2="443.6" stroke="#231f20" stroke-width="1.1" />
<line x1="415.8" y1="366.03" x2="415.8" y2="373.03" stroke="#231f20" stroke-width="1.1" />
<line x1="413.8" y1="373.03" x2="417.8" y2="373.03" stroke="#231f20" stroke-width="1.1" />
<polygon points="415.8,361.03 421.8,371.03 409.8,371.03" fill="#231f20"/>
<line x1="415.8" y1="361.56" x2="415.8" y2="355.56" stroke="#231f20" stroke-width="1.1" />
<line x1="413.8" y1="355.56" x2="417.8" y2="355.56" stroke="#231f20" stroke-width="1.1" />
<polygon points="415.8,356.96 420.29,366.16 411.3,366.16" fill="#fff" stroke="#231f20" stroke-width="1.3" stroke-linejoin="miter"/>
<circle cx="415.8" cy="440.4" r="4.45" fill="#fff" stroke="#231f20" stroke-width="1.3"/>
<line x1="415.8" y1="437.2" x2="415.8" y2="443.6" stroke="#231f20" stroke-width="1.1" />
<line x1="414" y1="437.2" x2="417.6" y2="437.2" stroke="#231f20" stroke-width="1.1" />
<line x1="414" y1="443.6" x2="417.6" y2="443.6" stroke="#231f20" stroke-width="1.1" />
<text x="-4" y="543.4" font-size="50" font-weight="bold" fill="#231f20">B</text>
<line x1="94" y1="547" x2="94" y2="792.6" stroke="#231f20" stroke-width="2" />
<line x1="93" y1="791.6" x2="431" y2="791.6" stroke="#231f20" stroke-width="2" />
<line x1="87.5" y1="771.8" x2="94" y2="771.8" stroke="#231f20" stroke-width="2" />
<text x="82.4" y="779.1" font-size="23.5" text-anchor="end" fill="#231f20" >0</text>
<line x1="87.5" y1="730.8" x2="94" y2="730.8" stroke="#231f20" stroke-width="2" />
<text x="82.4" y="738.1" font-size="23.5" text-anchor="end" fill="#231f20" >20</text>
<line x1="87.5" y1="689.8" x2="94" y2="689.8" stroke="#231f20" stroke-width="2" />
<text x="82.4" y="697.1" font-size="23.5" text-anchor="end" fill="#231f20" >40</text>
<line x1="87.5" y1="648.8" x2="94" y2="648.8" stroke="#231f20" stroke-width="2" />
<text x="82.4" y="656.1" font-size="23.5" text-anchor="end" fill="#231f20" >60</text>
<line x1="87.5" y1="607.8" x2="94" y2="607.8" stroke="#231f20" stroke-width="2" />
<text x="82.4" y="615.1" font-size="23.5" text-anchor="end" fill="#231f20" >80</text>
<line x1="87.5" y1="566.8" x2="94" y2="566.8" stroke="#231f20" stroke-width="2" />
<text x="82.4" y="574.1" font-size="23.5" text-anchor="end" fill="#231f20" >100</text>
<line x1="129.3" y1="791.6" x2="129.3" y2="798.1" stroke="#231f20" stroke-width="2" />
<text x="129.3" y="821.4" font-size="23.5" text-anchor="middle" fill="#231f20" >6.5</text>
<line x1="200.5" y1="791.6" x2="200.5" y2="798.1" stroke="#231f20" stroke-width="2" />
<text x="200.5" y="821.4" font-size="23.5" text-anchor="middle" fill="#231f20" >6.0</text>
<line x1="271.7" y1="791.6" x2="271.7" y2="798.1" stroke="#231f20" stroke-width="2" />
<text x="271.7" y="821.4" font-size="23.5" text-anchor="middle" fill="#231f20" >5.5</text>
<line x1="342.9" y1="791.6" x2="342.9" y2="798.1" stroke="#231f20" stroke-width="2" />
<text x="342.9" y="821.4" font-size="23.5" text-anchor="middle" fill="#231f20" >5.0</text>
<line x1="414.1" y1="791.6" x2="414.1" y2="798.1" stroke="#231f20" stroke-width="2" />
<text x="414.1" y="821.4" font-size="23.5" text-anchor="middle" fill="#231f20" >4.5</text>
<text transform="translate(32,769) rotate(-90)" font-size="24.7" text-anchor="start" fill="#231f20" letter-spacing="0.82">Relative force (%)</text>
<polygon points="129.3,764.65 135.3,774.85 123.3,774.85" fill="#cc2f36"/>
<polygon points="164.9,754.4 170.9,764.6 158.9,764.6" fill="#cc2f36"/>
<polygon points="200.5,684.7 206.5,694.9 194.5,694.9" fill="#cc2f36"/>
<polygon points="236.1,598.6 242.1,608.8 230.1,608.8" fill="#cc2f36"/>
<polygon points="271.7,566.82 277.7,577.02 265.7,577.02" fill="#cc2f36"/>
<polygon points="342.9,561.7 348.9,571.9 336.9,571.9" fill="#cc2f36"/>
<polygon points="414.1,561.7 420.1,571.9 408.1,571.9" fill="#cc2f36"/>
<circle cx="129.3" cy="771.8" r="4.9" fill="#cc2f36"/>
<circle cx="164.9" cy="769.75" r="4.9" fill="#cc2f36"/>
<circle cx="200.5" cy="737.36" r="4.9" fill="#cc2f36"/>
<circle cx="236.1" cy="658.02" r="4.9" fill="#cc2f36"/>
<circle cx="271.7" cy="580.12" r="4.9" fill="#cc2f36"/>
<circle cx="342.9" cy="567.82" r="4.9" fill="#cc2f36"/>
<circle cx="414.1" cy="566.8" r="4.9" fill="#cc2f36"/>
<circle cx="129.3" cy="771.18" r="4.22" fill="#fff" stroke="#cc2f36" stroke-width="1.15"/>
<circle cx="164.9" cy="767.7" r="4.22" fill="#fff" stroke="#cc2f36" stroke-width="1.15"/>
<circle cx="200.5" cy="732.03" r="4.22" fill="#fff" stroke="#cc2f36" stroke-width="1.15"/>
<circle cx="236.1" cy="642.65" r="4.22" fill="#fff" stroke="#cc2f36" stroke-width="1.15"/>
<circle cx="271.7" cy="575.82" r="4.22" fill="#fff" stroke="#cc2f36" stroke-width="1.15"/>
<circle cx="342.9" cy="566.8" r="4.22" fill="#fff" stroke="#cc2f36" stroke-width="1.15"/>
<circle cx="414.1" cy="566.8" r="4.22" fill="#fff" stroke="#cc2f36" stroke-width="1.15"/>
<polygon points="129.3,761.74 134.12,770.79 124.48,770.79" fill="#fff" stroke="#cc2f36" stroke-width="1.15" stroke-linejoin="miter"/>
<polygon points="164.9,752.51 169.72,761.56 160.08,761.56" fill="#fff" stroke="#cc2f36" stroke-width="1.15" stroke-linejoin="miter"/>
<polygon points="200.5,687.32 205.32,696.37 195.68,696.37" fill="#fff" stroke="#cc2f36" stroke-width="1.15" stroke-linejoin="miter"/>
<polygon points="236.1,590.98 240.92,600.02 231.28,600.02" fill="#fff" stroke="#cc2f36" stroke-width="1.15" stroke-linejoin="miter"/>
<polygon points="271.7,566.38 276.52,575.42 266.88,575.42" fill="#fff" stroke="#cc2f36" stroke-width="1.15" stroke-linejoin="miter"/>
<polygon points="342.9,563.1 347.72,572.14 338.08,572.14" fill="#fff" stroke="#cc2f36" stroke-width="1.15" stroke-linejoin="miter"/>
<polygon points="414.1,562.27 418.92,571.32 409.28,571.32" fill="#fff" stroke="#cc2f36" stroke-width="1.15" stroke-linejoin="miter"/>
<line x1="200.5" y1="691.85" x2="200.5" y2="684.67" stroke="#cc2f36" stroke-width="1.1" />
<line x1="198.25" y1="684.67" x2="202.75" y2="684.67" stroke="#cc2f36" stroke-width="1.1" />
<line x1="200.5" y1="691.85" x2="200.5" y2="699.02" stroke="#cc2f36" stroke-width="1.1" />
<line x1="198.25" y1="699.02" x2="202.75" y2="699.02" stroke="#cc2f36" stroke-width="1.1" />
<line x1="236.1" y1="642.65" x2="236.1" y2="648.8" stroke="#cc2f36" stroke-width="1.1" />
<line x1="233.85" y1="648.8" x2="238.35" y2="648.8" stroke="#cc2f36" stroke-width="1.1" />
<line x1="236.1" y1="658.02" x2="236.1" y2="665.2" stroke="#cc2f36" stroke-width="1.1" />
<line x1="233.85" y1="665.2" x2="238.35" y2="665.2" stroke="#cc2f36" stroke-width="1.1" />
<line x1="200.5" y1="732.03" x2="200.5" y2="736.13" stroke="#cc2f36" stroke-width="1.1" />
<line x1="198.25" y1="736.13" x2="202.75" y2="736.13" stroke="#cc2f36" stroke-width="1.1" />
<line x1="164.9" y1="757.04" x2="164.9" y2="753.96" stroke="#cc2f36" stroke-width="1.1" />
<line x1="162.65" y1="753.96" x2="167.15" y2="753.96" stroke="#cc2f36" stroke-width="1.1" />
<line x1="164.9" y1="757.04" x2="164.9" y2="760.12" stroke="#cc2f36" stroke-width="1.1" />
<line x1="162.65" y1="760.12" x2="167.15" y2="760.12" stroke="#cc2f36" stroke-width="1.1" />
<line x1="129.3" y1="771.18" x2="129.3" y2="767.5" stroke="#cc2f36" stroke-width="1.1" />
<line x1="127.05" y1="767.5" x2="131.55" y2="767.5" stroke="#cc2f36" stroke-width="1.1" />
<line x1="129.3" y1="771.18" x2="129.3" y2="774.88" stroke="#cc2f36" stroke-width="1.1" />
<line x1="127.05" y1="774.88" x2="131.55" y2="774.88" stroke="#cc2f36" stroke-width="1.1" />
<line x1="271.7" y1="580.12" x2="271.7" y2="584.22" stroke="#cc2f36" stroke-width="1.1" />
<line x1="269.45" y1="584.22" x2="273.95" y2="584.22" stroke="#cc2f36" stroke-width="1.1" />
<line x1="271.7" y1="571.92" x2="271.7" y2="568.85" stroke="#cc2f36" stroke-width="1.1" />
<line x1="269.45" y1="568.85" x2="273.95" y2="568.85" stroke="#cc2f36" stroke-width="1.1" />
<line x1="342.9" y1="566.8" x2="342.9" y2="563.72" stroke="#cc2f36" stroke-width="1.1" />
<line x1="340.65" y1="563.72" x2="345.15" y2="563.72" stroke="#cc2f36" stroke-width="1.1" />
<line x1="342.9" y1="566.8" x2="342.9" y2="569.88" stroke="#cc2f36" stroke-width="1.1" />
<line x1="340.65" y1="569.88" x2="345.15" y2="569.88" stroke="#cc2f36" stroke-width="1.1" />
<line x1="414.1" y1="566.8" x2="414.1" y2="563.72" stroke="#cc2f36" stroke-width="1.1" />
<line x1="411.85" y1="563.72" x2="416.35" y2="563.72" stroke="#cc2f36" stroke-width="1.1" />
<line x1="414.1" y1="566.8" x2="414.1" y2="569.88" stroke="#cc2f36" stroke-width="1.1" />
<line x1="411.85" y1="569.88" x2="416.35" y2="569.88" stroke="#cc2f36" stroke-width="1.1" />
<path d="M93.7,771.61 L95.37,771.59 L97.05,771.57 L98.72,771.55 L100.39,771.53 L102.07,771.51 L103.74,771.48 L105.41,771.45 L107.09,771.42 L108.76,771.38 L110.43,771.35 L112.11,771.31 L113.78,771.26 L115.45,771.21 L117.12,771.16 L118.8,771.1 L120.47,771.04 L122.14,770.97 L123.82,770.9 L125.49,770.81 L127.16,770.73 L128.84,770.63 L130.51,770.52 L132.18,770.41 L133.86,770.28 L135.53,770.15 L137.2,770 L138.88,769.84 L140.55,769.66 L142.22,769.47 L143.9,769.27 L145.57,769.04 L147.24,768.79 L148.92,768.53 L150.59,768.23 L152.26,767.92 L153.94,767.57 L155.61,767.2 L157.28,766.79 L158.95,766.35 L160.63,765.88 L162.3,765.36 L163.97,764.79 L165.65,764.18 L167.32,763.52 L168.99,762.81 L170.67,762.03 L172.34,761.2 L174.01,760.29 L175.69,759.31 L177.36,758.26 L179.03,757.12 L180.71,755.9 L182.38,754.58 L184.05,753.16 L185.73,751.64 L187.4,750.01 L189.07,748.27 L190.75,746.41 L192.42,744.42 L194.09,742.3 L195.77,740.04 L197.44,737.65 L199.11,735.11 L200.78,732.43 L202.46,729.6 L204.13,726.63 L205.8,723.51 L207.48,720.24 L209.15,716.83 L210.82,713.27 L212.5,709.59 L214.17,705.77 L215.84,701.84 L217.52,697.8 L219.19,693.65 L220.86,689.43 L222.54,685.13 L224.21,680.77 L225.88,676.37 L227.56,671.94 L229.23,667.51 L230.9,663.08 L232.58,658.67 L234.25,654.3 L235.92,649.99 L237.6,645.75 L239.27,641.59 L240.94,637.53 L242.61,633.57 L244.29,629.73 L245.96,626.02 L247.63,622.44 L249.31,619 L250.98,615.71 L252.65,612.56 L254.33,609.55 L256,606.7 L257.67,603.99 L259.35,601.43 L261.02,599.01 L262.69,596.72 L264.37,594.58 L266.04,592.56 L267.71,590.68 L269.39,588.91 L271.06,587.26 L272.73,585.72 L274.41,584.28 L276.08,582.95 L277.75,581.71 L279.43,580.55 L281.1,579.48 L282.77,578.49 L284.44,577.57 L286.12,576.72 L287.79,575.94 L289.46,575.21 L291.14,574.54 L292.81,573.92 L294.48,573.35 L296.16,572.82 L297.83,572.33 L299.5,571.89 L301.18,571.47 L302.85,571.09 L304.52,570.75 L306.2,570.42 L307.87,570.13 L309.54,569.86 L311.22,569.61 L312.89,569.38 L314.56,569.17 L316.24,568.97 L317.91,568.79 L319.58,568.63 L321.26,568.48 L322.93,568.34 L324.6,568.21 L326.27,568.1 L327.95,567.99 L329.62,567.89 L331.29,567.8 L332.97,567.72 L334.64,567.64 L336.31,567.57 L337.99,567.51 L339.66,567.45 L341.33,567.4 L343.01,567.35 L344.68,567.3 L346.35,567.26 L348.03,567.22 L349.7,567.19 L351.37,567.16 L353.05,567.13 L354.72,567.1 L356.39,567.07 L358.07,567.05 L359.74,567.03 L361.41,567.01 L363.09,566.99 L364.76,566.98 L366.43,566.96 L368.1,566.95 L369.78,566.94 L371.45,566.93 L373.12,566.92 L374.8,566.91 L376.47,566.9 L378.14,566.89 L379.82,566.88 L381.49,566.87 L383.16,566.87 L384.84,566.86 L386.51,566.86 L388.18,566.85 L389.86,566.85 L391.53,566.84 L393.2,566.84 L394.88,566.84 L396.55,566.83 L398.22,566.83 L399.9,566.83 L401.57,566.83 L403.24,566.82 L404.92,566.82 L406.59,566.82 L408.26,566.82 L409.93,566.82 L411.61,566.82 L413.28,566.81 L414.95,566.81 L416.63,566.81 L418.3,566.81 L419.97,566.81 L421.65,566.81 L423.32,566.81 L424.99,566.81 L426.67,566.81 L428.34,566.81" fill="none" stroke="#cc2f36" stroke-width="2"/>
<path d="M93.7,771.53 L95.37,771.5 L97.05,771.47 L98.72,771.44 L100.39,771.41 L102.07,771.36 L103.74,771.32 L105.41,771.27 L107.09,771.22 L108.76,771.16 L110.43,771.09 L112.11,771.02 L113.78,770.94 L115.45,770.85 L117.12,770.76 L118.8,770.65 L120.47,770.53 L122.14,770.41 L123.82,770.26 L125.49,770.11 L127.16,769.94 L128.84,769.75 L130.51,769.54 L132.18,769.31 L133.86,769.06 L135.53,768.79 L137.2,768.48 L138.88,768.15 L140.55,767.78 L142.22,767.38 L143.9,766.94 L145.57,766.45 L147.24,765.92 L148.92,765.34 L150.59,764.7 L152.26,764 L153.94,763.24 L155.61,762.41 L157.28,761.49 L158.95,760.5 L160.63,759.41 L162.3,758.23 L163.97,756.94 L165.65,755.54 L167.32,754.02 L168.99,752.37 L170.67,750.59 L172.34,748.67 L174.01,746.59 L175.69,744.36 L177.36,741.96 L179.03,739.39 L180.71,736.64 L182.38,733.71 L184.05,730.6 L185.73,727.3 L187.4,723.81 L189.07,720.14 L190.75,716.29 L192.42,712.26 L194.09,708.06 L195.77,703.7 L197.44,699.21 L199.11,694.58 L200.78,689.83 L202.46,685 L204.13,680.09 L205.8,675.14 L207.48,670.15 L209.15,665.16 L210.82,660.19 L212.5,655.26 L214.17,650.4 L215.84,645.63 L217.52,640.96 L219.19,636.41 L220.86,632.01 L222.54,627.75 L224.21,623.67 L225.88,619.75 L227.56,616.02 L229.23,612.47 L230.9,609.1 L232.58,605.93 L234.25,602.94 L235.92,600.13 L237.6,597.5 L239.27,595.04 L240.94,592.75 L242.61,590.62 L244.29,588.65 L245.96,586.82 L247.63,585.13 L249.31,583.56 L250.98,582.13 L252.65,580.8 L254.33,579.58 L256,578.46 L257.67,577.44 L259.35,576.5 L261.02,575.64 L262.69,574.85 L264.37,574.13 L266.04,573.47 L267.71,572.87 L269.39,572.32 L271.06,571.82 L272.73,571.37 L274.41,570.95 L276.08,570.57 L277.75,570.23 L279.43,569.91 L281.1,569.63 L282.77,569.37 L284.44,569.13 L286.12,568.92 L287.79,568.73 L289.46,568.55 L291.14,568.39 L292.81,568.24 L294.48,568.11 L296.16,567.99 L297.83,567.88 L299.5,567.78 L301.18,567.69 L302.85,567.61 L304.52,567.53 L306.2,567.46 L307.87,567.4 L309.54,567.35 L311.22,567.3 L312.89,567.25 L314.56,567.21 L316.24,567.17 L317.91,567.14 L319.58,567.1 L321.26,567.08 L322.93,567.05 L324.6,567.03 L326.27,567.01 L327.95,566.99 L329.62,566.97 L331.29,566.95 L332.97,566.94 L334.64,566.93 L336.31,566.92 L337.99,566.9 L339.66,566.89 L341.33,566.89 L343.01,566.88 L344.68,566.87 L346.35,566.86 L348.03,566.86 L349.7,566.85 L351.37,566.85 L353.05,566.84 L354.72,566.84 L356.39,566.84 L358.07,566.83 L359.74,566.83 L361.41,566.83 L363.09,566.82 L364.76,566.82 L366.43,566.82 L368.1,566.82 L369.78,566.82 L371.45,566.81 L373.12,566.81 L374.8,566.81 L376.47,566.81 L378.14,566.81 L379.82,566.81 L381.49,566.81 L383.16,566.81 L384.84,566.81 L386.51,566.81 L388.18,566.81 L389.86,566.81 L391.53,566.8 L393.2,566.8 L394.88,566.8 L396.55,566.8 L398.22,566.8 L399.9,566.8 L401.57,566.8 L403.24,566.8 L404.92,566.8 L406.59,566.8 L408.26,566.8 L409.93,566.8 L411.61,566.8 L413.28,566.8 L414.95,566.8 L416.63,566.8 L418.3,566.8 L419.97,566.8 L421.65,566.8 L423.32,566.8 L424.99,566.8 L426.67,566.8 L428.34,566.8" fill="none" stroke="#cc2f36" stroke-width="2"/>
<path d="M93.7,771.7 L95.37,771.69 L97.05,771.68 L98.72,771.67 L100.39,771.66 L102.07,771.64 L103.74,771.63 L105.41,771.61 L107.09,771.59 L108.76,771.57 L110.43,771.54 L112.11,771.52 L113.78,771.49 L115.45,771.46 L117.12,771.42 L118.8,771.38 L120.47,771.34 L122.14,771.29 L123.82,771.24 L125.49,771.19 L127.16,771.12 L128.84,771.06 L130.51,770.98 L132.18,770.9 L133.86,770.8 L135.53,770.7 L137.2,770.59 L138.88,770.47 L140.55,770.33 L142.22,770.18 L143.9,770.02 L145.57,769.84 L147.24,769.64 L148.92,769.42 L150.59,769.18 L152.26,768.92 L153.94,768.63 L155.61,768.31 L157.28,767.96 L158.95,767.57 L160.63,767.15 L162.3,766.69 L163.97,766.18 L165.65,765.62 L167.32,765.01 L168.99,764.34 L170.67,763.61 L172.34,762.81 L174.01,761.93 L175.69,760.97 L177.36,759.93 L179.03,758.79 L180.71,757.55 L182.38,756.21 L184.05,754.75 L185.73,753.16 L187.4,751.44 L189.07,749.59 L190.75,747.58 L192.42,745.42 L194.09,743.1 L195.77,740.61 L197.44,737.95 L199.11,735.11 L200.78,732.08 L202.46,728.87 L204.13,725.47 L205.8,721.88 L207.48,718.11 L209.15,714.16 L210.82,710.04 L212.5,705.76 L214.17,701.33 L215.84,696.76 L217.52,692.07 L219.19,687.27 L220.86,682.4 L222.54,677.46 L224.21,672.49 L225.88,667.49 L227.56,662.51 L229.23,657.56 L230.9,652.67 L232.58,647.85 L234.25,643.13 L235.92,638.52 L237.6,634.05 L239.27,629.72 L240.94,625.56 L242.61,621.56 L244.29,617.74 L245.96,614.11 L247.63,610.65 L249.31,607.39 L250.98,604.31 L252.65,601.42 L254.33,598.71 L256,596.17 L257.67,593.8 L259.35,591.6 L261.02,589.55 L262.69,587.66 L264.37,585.9 L266.04,584.28 L267.71,582.78 L269.39,581.41 L271.06,580.14 L272.73,578.97 L274.41,577.91 L276.08,576.93 L277.75,576.03 L279.43,575.21 L281.1,574.46 L282.77,573.77 L284.44,573.14 L286.12,572.57 L287.79,572.05 L289.46,571.57 L291.14,571.14 L292.81,570.74 L294.48,570.39 L296.16,570.06 L297.83,569.76 L299.5,569.49 L301.18,569.24 L302.85,569.02 L304.52,568.81 L306.2,568.63 L307.87,568.46 L309.54,568.31 L311.22,568.17 L312.89,568.04 L314.56,567.93 L316.24,567.82 L317.91,567.73 L319.58,567.64 L321.26,567.57 L322.93,567.49 L324.6,567.43 L326.27,567.37 L327.95,567.32 L329.62,567.27 L331.29,567.23 L332.97,567.19 L334.64,567.15 L336.31,567.12 L337.99,567.09 L339.66,567.06 L341.33,567.04 L343.01,567.02 L344.68,567 L346.35,566.98 L348.03,566.96 L349.7,566.95 L351.37,566.93 L353.05,566.92 L354.72,566.91 L356.39,566.9 L358.07,566.89 L359.74,566.88 L361.41,566.87 L363.09,566.87 L364.76,566.86 L366.43,566.86 L368.1,566.85 L369.78,566.85 L371.45,566.84 L373.12,566.84 L374.8,566.83 L376.47,566.83 L378.14,566.83 L379.82,566.83 L381.49,566.82 L383.16,566.82 L384.84,566.82 L386.51,566.82 L388.18,566.82 L389.86,566.81 L391.53,566.81 L393.2,566.81 L394.88,566.81 L396.55,566.81 L398.22,566.81 L399.9,566.81 L401.57,566.81 L403.24,566.81 L404.92,566.81 L406.59,566.81 L408.26,566.8 L409.93,566.8 L411.61,566.8 L413.28,566.8 L414.95,566.8 L416.63,566.8 L418.3,566.8 L419.97,566.8 L421.65,566.8 L423.32,566.8 L424.99,566.8 L426.67,566.8 L428.34,566.8" fill="none" stroke="#cc2f36" stroke-width="2" stroke-dasharray="7.5,9.5"/>
<path d="M93.7,771.54 L95.37,771.52 L97.05,771.49 L98.72,771.45 L100.39,771.42 L102.07,771.38 L103.74,771.33 L105.41,771.28 L107.09,771.23 L108.76,771.17 L110.43,771.1 L112.11,771.03 L113.78,770.95 L115.45,770.86 L117.12,770.76 L118.8,770.65 L120.47,770.53 L122.14,770.4 L123.82,770.25 L125.49,770.09 L127.16,769.91 L128.84,769.71 L130.51,769.5 L132.18,769.26 L133.86,768.99 L135.53,768.7 L137.2,768.38 L138.88,768.03 L140.55,767.64 L142.22,767.21 L143.9,766.74 L145.57,766.22 L147.24,765.65 L148.92,765.02 L150.59,764.34 L152.26,763.58 L153.94,762.75 L155.61,761.85 L157.28,760.86 L158.95,759.77 L160.63,758.59 L162.3,757.29 L163.97,755.88 L165.65,754.35 L167.32,752.69 L168.99,750.88 L170.67,748.92 L172.34,746.81 L174.01,744.53 L175.69,742.07 L177.36,739.43 L179.03,736.61 L180.71,733.6 L182.38,730.39 L184.05,726.98 L185.73,723.38 L187.4,719.58 L189.07,715.59 L190.75,711.41 L192.42,707.06 L194.09,702.55 L195.77,697.89 L197.44,693.09 L199.11,688.18 L200.78,683.19 L202.46,678.12 L204.13,673.01 L205.8,667.88 L207.48,662.76 L209.15,657.67 L210.82,652.64 L212.5,647.69 L214.17,642.84 L215.84,638.12 L217.52,633.54 L219.19,629.11 L220.86,624.86 L222.54,620.78 L224.21,616.9 L225.88,613.2 L227.56,609.71 L229.23,606.41 L230.9,603.31 L232.58,600.4 L234.25,597.68 L235.92,595.15 L237.6,592.79 L239.27,590.6 L240.94,588.58 L242.61,586.7 L244.29,584.98 L245.96,583.38 L247.63,581.92 L249.31,580.58 L250.98,579.35 L252.65,578.22 L254.33,577.18 L256,576.24 L257.67,575.38 L259.35,574.59 L261.02,573.88 L262.69,573.22 L264.37,572.63 L266.04,572.09 L267.71,571.6 L269.39,571.15 L271.06,570.74 L272.73,570.37 L274.41,570.04 L276.08,569.73 L277.75,569.46 L279.43,569.21 L281.1,568.98 L282.77,568.78 L284.44,568.59 L286.12,568.42 L287.79,568.27 L289.46,568.13 L291.14,568 L292.81,567.89 L294.48,567.79 L296.16,567.69 L297.83,567.61 L299.5,567.53 L301.18,567.46 L302.85,567.4 L304.52,567.34 L306.2,567.29 L307.87,567.24 L309.54,567.2 L311.22,567.16 L312.89,567.13 L314.56,567.1 L316.24,567.07 L317.91,567.04 L319.58,567.02 L321.26,567 L322.93,566.98 L324.6,566.96 L326.27,566.95 L327.95,566.93 L329.62,566.92 L331.29,566.91 L332.97,566.9 L334.64,566.89 L336.31,566.88 L337.99,566.87 L339.66,566.87 L341.33,566.86 L343.01,566.85 L344.68,566.85 L346.35,566.84 L348.03,566.84 L349.7,566.84 L351.37,566.83 L353.05,566.83 L354.72,566.83 L356.39,566.82 L358.07,566.82 L359.74,566.82 L361.41,566.82 L363.09,566.82 L364.76,566.81 L366.43,566.81 L368.1,566.81 L369.78,566.81 L371.45,566.81 L373.12,566.81 L374.8,566.81 L376.47,566.81 L378.14,566.81 L379.82,566.81 L381.49,566.81 L383.16,566.8 L384.84,566.8 L386.51,566.8 L388.18,566.8 L389.86,566.8 L391.53,566.8 L393.2,566.8 L394.88,566.8 L396.55,566.8 L398.22,566.8 L399.9,566.8 L401.57,566.8 L403.24,566.8 L404.92,566.8 L406.59,566.8 L408.26,566.8 L409.93,566.8 L411.61,566.8 L413.28,566.8 L414.95,566.8 L416.63,566.8 L418.3,566.8 L419.97,566.8 L421.65,566.8 L423.32,566.8 L424.99,566.8 L426.67,566.8 L428.34,566.8" fill="none" stroke="#cc2f36" stroke-width="2" stroke-dasharray="7.5,9.5"/>
<circle cx="109.5" cy="554" r="5.2" fill="#cc2f36"/>
<polygon points="109.5,568.67 115.98,579.74 103.02,579.74" fill="#cc2f36"/>
<circle cx="109.5" cy="597.3" r="4.35" fill="none" stroke="#cc2f36" stroke-width="1.1"/>
<polygon points="109.5,612.62 115.05,622.59 103.95,622.59" fill="none" stroke="#cc2f36" stroke-width="1.1" stroke-linejoin="miter"/>
<text x="120.6" y="558.8" font-size="16.4" text-anchor="start" fill="#231f20" >sTn 1.9</text>
<text x="120.6" y="579" font-size="16.4" text-anchor="start" fill="#231f20" >sTn 2.3</text>
<text x="120.6" y="601.8" font-size="16.4" text-anchor="start" fill="#231f20" >sTn+Pimo 1.9</text>
<text x="120.6" y="622.2" font-size="16.4" text-anchor="start" fill="#231f20" >sTn+Pimo 2.3</text>
<line x1="333.6" y1="626.5" x2="333.6" y2="765.4" stroke="#231f20" stroke-width="2" />
<line x1="332.6" y1="764.4" x2="427" y2="764.4" stroke="#231f20" stroke-width="2" />
<line x1="328.6" y1="764.4" x2="333.6" y2="764.4" stroke="#231f20" stroke-width="2" />
<text x="325" y="770" font-size="19" text-anchor="end" fill="#231f20" >0.0</text>
<line x1="328.6" y1="718.6" x2="333.6" y2="718.6" stroke="#231f20" stroke-width="2" />
<text x="325" y="724.2" font-size="19" text-anchor="end" fill="#231f20" >0.1</text>
<line x1="328.6" y1="672.8" x2="333.6" y2="672.8" stroke="#231f20" stroke-width="2" />
<text x="325" y="678.4" font-size="19" text-anchor="end" fill="#231f20" >0.2</text>
<line x1="328.6" y1="627" x2="333.6" y2="627" stroke="#231f20" stroke-width="2" />
<text x="325" y="632.6" font-size="19" text-anchor="end" fill="#231f20" >0.3</text>
<rect x="352.5" y="701.65" width="27.8" height="62.75" fill="#cc2f36" stroke="#231f20" stroke-width="1.5"/>
<rect x="380.3" y="700.74" width="29" height="63.66" fill="url(#hatchRs)" stroke="#231f20" stroke-width="1.5"/>
<line x1="366.4" y1="701.65" x2="366.4" y2="697.07" stroke="#231f20" stroke-width="1.5" />
<line x1="362.9" y1="697.07" x2="369.9" y2="697.07" stroke="#231f20" stroke-width="1.5" />
<line x1="394.8" y1="700.74" x2="394.8" y2="694.33" stroke="#231f20" stroke-width="1.5" />
<line x1="391.3" y1="694.33" x2="398.3" y2="694.33" stroke="#231f20" stroke-width="1.5" />
<text x="389.9" y="688.1" font-size="19.5" text-anchor="middle" fill="#231f20" >NS</text>
<text x="343.5" y="783.8" font-size="20" text-anchor="start" fill="#231f20" letter-spacing="0.9">sTn</text>
<text x="384.6" y="783.8" font-size="20" text-anchor="start" fill="#231f20" letter-spacing="1.2">Pimo</text>
<text transform="translate(289.2,736.2) rotate(-90)" font-size="21" text-anchor="start" fill="#231f20" >&#916;pCa<tspan font-size="15" dy="4">50</tspan></text>
<line x1="94.3" y1="853" x2="94.3" y2="959.2" stroke="#231f20" stroke-width="2" />
<line x1="93.3" y1="958.2" x2="428" y2="958.2" stroke="#231f20" stroke-width="2" />
<line x1="88.3" y1="949.7" x2="94.3" y2="949.7" stroke="#231f20" stroke-width="2" />
<text x="85.6" y="958.2" font-size="23" text-anchor="end" fill="#231f20" >0</text>
<line x1="88.3" y1="917.5" x2="94.3" y2="917.5" stroke="#231f20" stroke-width="2" />
<text x="85.6" y="926" font-size="23" text-anchor="end" fill="#231f20" >4</text>
<line x1="88.3" y1="885.3" x2="94.3" y2="885.3" stroke="#231f20" stroke-width="2" />
<text x="85.6" y="893.8" font-size="23" text-anchor="end" fill="#231f20" >8</text>
<line x1="88.3" y1="853.1" x2="94.3" y2="853.1" stroke="#231f20" stroke-width="2" />
<text x="85.6" y="861.6" font-size="23" text-anchor="end" fill="#231f20" >12</text>
<line x1="129.4" y1="958.2" x2="129.4" y2="964.7" stroke="#231f20" stroke-width="2" />
<line x1="164.93" y1="958.2" x2="164.93" y2="962.2" stroke="#231f20" stroke-width="2" />
<line x1="200.45" y1="958.2" x2="200.45" y2="964.7" stroke="#231f20" stroke-width="2" />
<line x1="235.97" y1="958.2" x2="235.97" y2="962.2" stroke="#231f20" stroke-width="2" />
<line x1="271.5" y1="958.2" x2="271.5" y2="964.7" stroke="#231f20" stroke-width="2" />
<line x1="307.02" y1="958.2" x2="307.02" y2="962.2" stroke="#231f20" stroke-width="2" />
<line x1="342.55" y1="958.2" x2="342.55" y2="964.7" stroke="#231f20" stroke-width="2" />
<line x1="378.07" y1="958.2" x2="378.07" y2="962.2" stroke="#231f20" stroke-width="2" />
<line x1="413.6" y1="958.2" x2="413.6" y2="964.7" stroke="#231f20" stroke-width="2" />
<text x="129.4" y="987.8" font-size="23" text-anchor="middle" fill="#231f20" >6.5</text>
<text x="200.45" y="987.8" font-size="23" text-anchor="middle" fill="#231f20" >6.0</text>
<text x="271.5" y="987.8" font-size="23" text-anchor="middle" fill="#231f20" >5.5</text>
<text x="342.55" y="987.8" font-size="23" text-anchor="middle" fill="#231f20" >5.0</text>
<text x="413.6" y="987.8" font-size="23" text-anchor="middle" fill="#231f20" >4.5</text>
<text x="305" y="1009.2" font-size="25" text-anchor="middle" fill="#231f20" >pCa</text>
<text transform="translate(18.2,981.4) rotate(-90)" font-size="24.8" text-anchor="start" fill="#231f20" letter-spacing="0.7">Passive force</text>
<text transform="translate(46.6,960.4) rotate(-90)" font-size="24.5" text-anchor="start" fill="#231f20" letter-spacing="1">(mN/mm<tspan font-size="13" dy="-12" dx="1">2</tspan><tspan dy="12">)</tspan></text>
<path d="M129.4,878.86 L164.93,878.46 L200.45,880.47 L235.97,879.67 L271.5,879.67 L342.55,879.67 L413.6,879.67" fill="none" stroke="#cc2f36" stroke-width="1.5" stroke-dasharray="4,9.3"/>
<path d="M129.4,879.67 L164.93,879.26 L200.45,880.87 L235.97,883.29 L271.5,885.7 L342.55,885.7 L413.6,886.11" fill="none" stroke="#cc2f36" stroke-width="2"/>
<path d="M129.4,947.69 L164.93,947.69 L200.45,947.69 L235.97,947.69 L271.5,947.69 L342.55,947.69 L413.6,947.69" fill="none" stroke="#cc2f36" stroke-width="1.5" stroke-dasharray="4,9.3"/>
<path d="M129.4,949.3 L164.93,949.3 L200.45,949.3 L235.97,949.3 L271.5,949.3 L342.55,949.3 L413.6,949.3" fill="none" stroke="#cc2f36" stroke-width="1.8"/>
<line x1="129.4" y1="881.68" x2="129.4" y2="888.68" stroke="#cc2f36" stroke-width="1.3" />
<line x1="127.4" y1="888.68" x2="131.4" y2="888.68" stroke="#cc2f36" stroke-width="1.3" />
<polygon points="129.4,876.68 135.4,886.68 123.4,886.68" fill="#cc2f36"/>
<line x1="129.4" y1="877.65" x2="129.4" y2="868.65" stroke="#cc2f36" stroke-width="1.3" />
<line x1="127.4" y1="868.65" x2="131.4" y2="868.65" stroke="#cc2f36" stroke-width="1.3" />
<polygon points="129.4,873.1 133.81,882.2 124.99,882.2" fill="#fff" stroke="#cc2f36" stroke-width="1.4" stroke-linejoin="miter"/>
<circle cx="129.4" cy="948.4" r="4.5" fill="#fff" stroke="#cc2f36" stroke-width="1.4"/>
<path d="M125.2,949.6 A4.2,4.2 0 0 0 133.6,949.6 Z" fill="#cc2f36"/>
<line x1="129.4" y1="944.6" x2="129.4" y2="949" stroke="#cc2f36" stroke-width="1.1" />
<line x1="127.4" y1="944.6" x2="131.4" y2="944.6" stroke="#cc2f36" stroke-width="1.1" />
<line x1="127.4" y1="947.4" x2="131.4" y2="947.4" stroke="#cc2f36" stroke-width="1.1" />
<line x1="164.93" y1="878.46" x2="164.93" y2="885.46" stroke="#cc2f36" stroke-width="1.3" />
<line x1="162.93" y1="885.46" x2="166.93" y2="885.46" stroke="#cc2f36" stroke-width="1.3" />
<polygon points="164.93,873.46 170.93,883.46 158.93,883.46" fill="#cc2f36"/>
<line x1="164.93" y1="878.06" x2="164.93" y2="869.06" stroke="#cc2f36" stroke-width="1.3" />
<line x1="162.93" y1="869.06" x2="166.93" y2="869.06" stroke="#cc2f36" stroke-width="1.3" />
<polygon points="164.93,873.51 169.34,882.61 160.52,882.61" fill="#fff" stroke="#cc2f36" stroke-width="1.4" stroke-linejoin="miter"/>
<circle cx="164.93" cy="948.4" r="4.5" fill="#fff" stroke="#cc2f36" stroke-width="1.4"/>
<path d="M160.73,949.6 A4.2,4.2 0 0 0 169.12,949.6 Z" fill="#cc2f36"/>
<line x1="164.93" y1="944.6" x2="164.93" y2="949" stroke="#cc2f36" stroke-width="1.1" />
<line x1="162.93" y1="944.6" x2="166.93" y2="944.6" stroke="#cc2f36" stroke-width="1.1" />
<line x1="162.93" y1="947.4" x2="166.93" y2="947.4" stroke="#cc2f36" stroke-width="1.1" />
<line x1="200.45" y1="880.87" x2="200.45" y2="887.87" stroke="#cc2f36" stroke-width="1.3" />
<line x1="198.45" y1="887.87" x2="202.45" y2="887.87" stroke="#cc2f36" stroke-width="1.3" />
<polygon points="200.45,875.87 206.45,885.87 194.45,885.87" fill="#cc2f36"/>
<line x1="200.45" y1="880.47" x2="200.45" y2="871.47" stroke="#cc2f36" stroke-width="1.3" />
<line x1="198.45" y1="871.47" x2="202.45" y2="871.47" stroke="#cc2f36" stroke-width="1.3" />
<polygon points="200.45,875.92 204.86,885.02 196.04,885.02" fill="#fff" stroke="#cc2f36" stroke-width="1.4" stroke-linejoin="miter"/>
<circle cx="200.45" cy="948.4" r="4.5" fill="#fff" stroke="#cc2f36" stroke-width="1.4"/>
<path d="M196.25,949.6 A4.2,4.2 0 0 0 204.65,949.6 Z" fill="#cc2f36"/>
<line x1="200.45" y1="944.6" x2="200.45" y2="949" stroke="#cc2f36" stroke-width="1.1" />
<line x1="198.45" y1="944.6" x2="202.45" y2="944.6" stroke="#cc2f36" stroke-width="1.1" />
<line x1="198.45" y1="947.4" x2="202.45" y2="947.4" stroke="#cc2f36" stroke-width="1.1" />
<line x1="235.97" y1="884.5" x2="235.97" y2="891.5" stroke="#cc2f36" stroke-width="1.3" />
<line x1="233.97" y1="891.5" x2="237.97" y2="891.5" stroke="#cc2f36" stroke-width="1.3" />
<polygon points="235.97,879.5 241.97,889.5 229.97,889.5" fill="#cc2f36"/>
<line x1="235.97" y1="879.26" x2="235.97" y2="870.26" stroke="#cc2f36" stroke-width="1.3" />
<line x1="233.97" y1="870.26" x2="237.97" y2="870.26" stroke="#cc2f36" stroke-width="1.3" />
<polygon points="235.97,874.71 240.38,883.81 231.56,883.81" fill="#fff" stroke="#cc2f36" stroke-width="1.4" stroke-linejoin="miter"/>
<circle cx="235.97" cy="948.4" r="4.5" fill="#fff" stroke="#cc2f36" stroke-width="1.4"/>
<path d="M231.78,949.6 A4.2,4.2 0 0 0 240.17,949.6 Z" fill="#cc2f36"/>
<line x1="235.97" y1="944.6" x2="235.97" y2="949" stroke="#cc2f36" stroke-width="1.1" />
<line x1="233.97" y1="944.6" x2="237.97" y2="944.6" stroke="#cc2f36" stroke-width="1.1" />
<line x1="233.97" y1="947.4" x2="237.97" y2="947.4" stroke="#cc2f36" stroke-width="1.1" />
<line x1="271.5" y1="886.51" x2="271.5" y2="893.51" stroke="#cc2f36" stroke-width="1.3" />
<line x1="269.5" y1="893.51" x2="273.5" y2="893.51" stroke="#cc2f36" stroke-width="1.3" />
<polygon points="271.5,881.51 277.5,891.51 265.5,891.51" fill="#cc2f36"/>
<line x1="271.5" y1="878.06" x2="271.5" y2="869.06" stroke="#cc2f36" stroke-width="1.3" />
<line x1="269.5" y1="869.06" x2="273.5" y2="869.06" stroke="#cc2f36" stroke-width="1.3" />
<polygon points="271.5,873.51 275.91,882.61 267.09,882.61" fill="#fff" stroke="#cc2f36" stroke-width="1.4" stroke-linejoin="miter"/>
<circle cx="271.5" cy="948.4" r="4.5" fill="#fff" stroke="#cc2f36" stroke-width="1.4"/>
<path d="M267.3,949.6 A4.2,4.2 0 0 0 275.7,949.6 Z" fill="#cc2f36"/>
<line x1="271.5" y1="944.6" x2="271.5" y2="949" stroke="#cc2f36" stroke-width="1.1" />
<line x1="269.5" y1="944.6" x2="273.5" y2="944.6" stroke="#cc2f36" stroke-width="1.1" />
<line x1="269.5" y1="947.4" x2="273.5" y2="947.4" stroke="#cc2f36" stroke-width="1.1" />
<line x1="342.55" y1="886.51" x2="342.55" y2="893.51" stroke="#cc2f36" stroke-width="1.3" />
<line x1="340.55" y1="893.51" x2="344.55" y2="893.51" stroke="#cc2f36" stroke-width="1.3" />
<polygon points="342.55,881.51 348.55,891.51 336.55,891.51" fill="#cc2f36"/>
<line x1="342.55" y1="878.06" x2="342.55" y2="869.06" stroke="#cc2f36" stroke-width="1.3" />
<line x1="340.55" y1="869.06" x2="344.55" y2="869.06" stroke="#cc2f36" stroke-width="1.3" />
<polygon points="342.55,873.51 346.96,882.61 338.14,882.61" fill="#fff" stroke="#cc2f36" stroke-width="1.4" stroke-linejoin="miter"/>
<circle cx="342.55" cy="948.4" r="4.5" fill="#fff" stroke="#cc2f36" stroke-width="1.4"/>
<path d="M338.35,949.6 A4.2,4.2 0 0 0 346.75,949.6 Z" fill="#cc2f36"/>
<line x1="342.55" y1="944.6" x2="342.55" y2="949" stroke="#cc2f36" stroke-width="1.1" />
<line x1="340.55" y1="944.6" x2="344.55" y2="944.6" stroke="#cc2f36" stroke-width="1.1" />
<line x1="340.55" y1="947.4" x2="344.55" y2="947.4" stroke="#cc2f36" stroke-width="1.1" />
<line x1="413.6" y1="886.51" x2="413.6" y2="893.51" stroke="#cc2f36" stroke-width="1.3" />
<line x1="411.6" y1="893.51" x2="415.6" y2="893.51" stroke="#cc2f36" stroke-width="1.3" />
<polygon points="413.6,881.51 419.6,891.51 407.6,891.51" fill="#cc2f36"/>
<line x1="413.6" y1="878.86" x2="413.6" y2="869.86" stroke="#cc2f36" stroke-width="1.3" />
<line x1="411.6" y1="869.86" x2="415.6" y2="869.86" stroke="#cc2f36" stroke-width="1.3" />
<polygon points="413.6,874.31 418.01,883.41 409.19,883.41" fill="#fff" stroke="#cc2f36" stroke-width="1.4" stroke-linejoin="miter"/>
<circle cx="413.6" cy="948.4" r="4.5" fill="#fff" stroke="#cc2f36" stroke-width="1.4"/>
<path d="M409.4,949.6 A4.2,4.2 0 0 0 417.8,949.6 Z" fill="#cc2f36"/>
<line x1="413.6" y1="944.6" x2="413.6" y2="949" stroke="#cc2f36" stroke-width="1.1" />
<line x1="411.6" y1="944.6" x2="415.6" y2="944.6" stroke="#cc2f36" stroke-width="1.1" />
<line x1="411.6" y1="947.4" x2="415.6" y2="947.4" stroke="#cc2f36" stroke-width="1.1" />
<text transform="translate(0,1048.6) scale(0.92,1)" x="-2.2" y="0" font-size="50.5" font-weight="bold" fill="#231f20">C</text>
<line x1="95.8" y1="1049" x2="95.8" y2="1276.2" stroke="#231f20" stroke-width="2" />
<line x1="94.8" y1="1275.2" x2="403" y2="1275.2" stroke="#231f20" stroke-width="2" />
<line x1="89.8" y1="1247" x2="95.8" y2="1247" stroke="#231f20" stroke-width="2" />
<text x="86.2" y="1254.2" font-size="24.3" text-anchor="end" fill="#231f20" >0.6</text>
<line x1="89.8" y1="1190.55" x2="95.8" y2="1190.55" stroke="#231f20" stroke-width="2" />
<text x="86.2" y="1197.75" font-size="24.3" text-anchor="end" fill="#231f20" >0.8</text>
<line x1="89.8" y1="1134.1" x2="95.8" y2="1134.1" stroke="#231f20" stroke-width="2" />
<text x="86.2" y="1141.3" font-size="24.3" text-anchor="end" fill="#231f20" >1.0</text>
<line x1="89.8" y1="1077.65" x2="95.8" y2="1077.65" stroke="#231f20" stroke-width="2" />
<text x="86.2" y="1084.85" font-size="24.3" text-anchor="end" fill="#231f20" >1.2</text>
<line x1="150" y1="1127.2" x2="150" y2="1103.8" stroke="#231f20" stroke-width="1.6" />
<line x1="145.5" y1="1103.8" x2="154.5" y2="1103.8" stroke="#231f20" stroke-width="1.6" />
<rect x="126" y="1127.2" width="48" height="148" fill="#231f20"/>
<line x1="216.2" y1="1121.6" x2="216.2" y2="1090.9" stroke="#231f20" stroke-width="1.6" />
<line x1="211.7" y1="1090.9" x2="220.7" y2="1090.9" stroke="#231f20" stroke-width="1.6" />
<rect x="193.05" y="1122.45" width="46.3" height="152.75" fill="url(#hatchK)" stroke="#231f20" stroke-width="1.7"/>
<line x1="282.2" y1="1192.2" x2="282.2" y2="1175.2" stroke="#231f20" stroke-width="1.6" />
<line x1="277.7" y1="1175.2" x2="286.7" y2="1175.2" stroke="#231f20" stroke-width="1.6" />
<rect x="259.05" y="1193.05" width="46.3" height="82.15" fill="#cc2f36" stroke="#231f20" stroke-width="1.7"/>
<line x1="348.4" y1="1190" x2="348.4" y2="1170.6" stroke="#231f20" stroke-width="1.6" />
<line x1="343.9" y1="1170.6" x2="352.9" y2="1170.6" stroke="#231f20" stroke-width="1.6" />
<rect x="325.25" y="1190.85" width="46.3" height="84.35" fill="url(#hatchR)" stroke="#231f20" stroke-width="1.7"/>
<path transform="translate(284.1,1159.1) rotate(0)" d="M-0.3,0 L-1.3,-4.95 A1.3,1.3 0 1 1 1.3,-4.95 L0.3,0 Z" fill="#231f20"/><path transform="translate(284.1,1159.1) rotate(60)" d="M-0.3,0 L-1.3,-4.95 A1.3,1.3 0 1 1 1.3,-4.95 L0.3,0 Z" fill="#231f20"/><path transform="translate(284.1,1159.1) rotate(120)" d="M-0.3,0 L-1.3,-4.95 A1.3,1.3 0 1 1 1.3,-4.95 L0.3,0 Z" fill="#231f20"/><path transform="translate(284.1,1159.1) rotate(180)" d="M-0.3,0 L-1.3,-4.95 A1.3,1.3 0 1 1 1.3,-4.95 L0.3,0 Z" fill="#231f20"/><path transform="translate(284.1,1159.1) rotate(240)" d="M-0.3,0 L-1.3,-4.95 A1.3,1.3 0 1 1 1.3,-4.95 L0.3,0 Z" fill="#231f20"/><path transform="translate(284.1,1159.1) rotate(300)" d="M-0.3,0 L-1.3,-4.95 A1.3,1.3 0 1 1 1.3,-4.95 L0.3,0 Z" fill="#231f20"/>
<path transform="translate(349.1,1156.3) rotate(0)" d="M-0.3,0 L-1.3,-4.95 A1.3,1.3 0 1 1 1.3,-4.95 L0.3,0 Z" fill="#231f20"/><path transform="translate(349.1,1156.3) rotate(60)" d="M-0.3,0 L-1.3,-4.95 A1.3,1.3 0 1 1 1.3,-4.95 L0.3,0 Z" fill="#231f20"/><path transform="translate(349.1,1156.3) rotate(120)" d="M-0.3,0 L-1.3,-4.95 A1.3,1.3 0 1 1 1.3,-4.95 L0.3,0 Z" fill="#231f20"/><path transform="translate(349.1,1156.3) rotate(180)" d="M-0.3,0 L-1.3,-4.95 A1.3,1.3 0 1 1 1.3,-4.95 L0.3,0 Z" fill="#231f20"/><path transform="translate(349.1,1156.3) rotate(240)" d="M-0.3,0 L-1.3,-4.95 A1.3,1.3 0 1 1 1.3,-4.95 L0.3,0 Z" fill="#231f20"/><path transform="translate(349.1,1156.3) rotate(300)" d="M-0.3,0 L-1.3,-4.95 A1.3,1.3 0 1 1 1.3,-4.95 L0.3,0 Z" fill="#231f20"/>
<text transform="translate(38.3,1176.5) rotate(-90)" font-size="25.5" text-anchor="start" fill="#231f20" ><tspan font-style="italic">t</tspan><tspan font-size="25" dy="7">&#189;</tspan></text>
<text transform="translate(159,1293.5) rotate(-45)" font-size="25" text-anchor="end" fill="#231f20" letter-spacing="0.7">Vehicle</text>
<text transform="translate(225,1293) rotate(-45)" font-size="25" text-anchor="end" fill="#231f20" letter-spacing="0.7">Pimo</text>
<text transform="translate(291.6,1291.6) rotate(-45)" font-size="25" text-anchor="end" fill="#231f20" letter-spacing="0.7">sTn</text>
<text transform="translate(360,1291.8) rotate(-45)" font-size="25" text-anchor="end" fill="#231f20" letter-spacing="0.7">sTn+Pimo</text>
</svg>
</body></html>
